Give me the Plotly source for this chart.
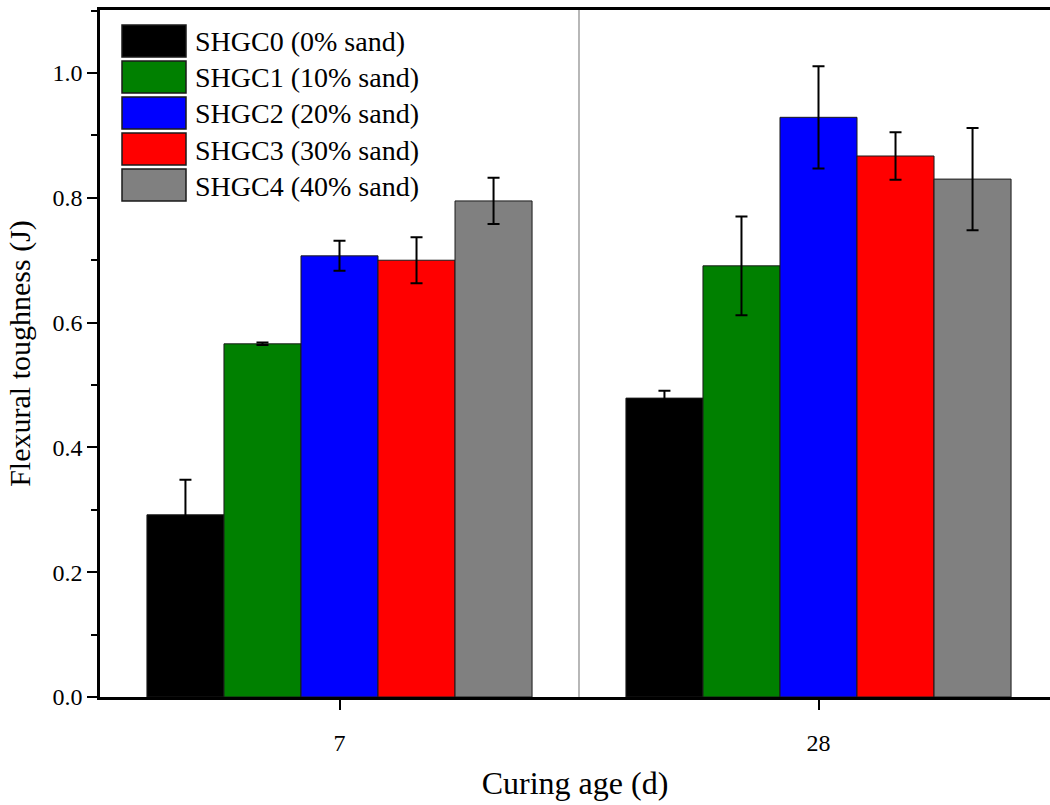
import plotly.graph_objects as go

categories = ["7", "28"]
series_names = ["SHGC0 (0% sand)", "SHGC1 (10% sand)", "SHGC2 (20% sand)",
                "SHGC3 (30% sand)", "SHGC4 (40% sand)"]
colors = ["#000000", "#008000", "#0000FF", "#FF0000", "#808080"]
values = [
    [0.292, 0.479],
    [0.566, 0.691],
    [0.707, 0.929],
    [0.700, 0.867],
    [0.795, 0.830],
]
errors = [
    [0.056, 0.012],
    [0.002, 0.079],
    [0.024, 0.082],
    [0.037, 0.038],
    [0.037, 0.082],
]
y_ticks = [0.0, 0.2, 0.4, 0.6, 0.8, 1.0]

W, H = 1050, 805
L, R, T, B = 100, 0, 10, 108
FONT = "Liberation Serif"

fig = go.Figure()
for name, col, v, e in zip(series_names, colors, values, errors):
    fig.add_trace(go.Bar(
        x=[0, 1], y=v, name=name,
        marker=dict(color=col, line=dict(color="#1a1a1a", width=1)),
        error_y=dict(type="data", array=e, visible=True, color="black",
                     thickness=2, width=6),
        showlegend=False,
    ))

pw = W - L - R
ph = H - T - B
def px(x):
    return (x - L) / pw
def py(y):
    return (H - B - y) / ph

shapes = []
annotations = []
# custom legend with large swatches
for i, (name, col) in enumerate(zip(series_names, colors)):
    y0 = 25 + i * 36
    shapes.append(dict(type="rect", xref="paper", yref="paper",
                       x0=px(122), x1=px(186), y0=py(y0 + 32), y1=py(y0),
                       fillcolor=col, line=dict(color="#1a1a1a", width=1.5)))
    annotations.append(dict(xref="paper", yref="paper", x=px(193), y=py(y0 + 17),
                            text=name, showarrow=False, xanchor="left",
                            yanchor="middle",
                            font=dict(family=FONT, size=28, color="black")))
# group divider
shapes.append(dict(type="line", xref="x", yref="paper", x0=0.5, x1=0.5, y0=0, y1=1,
                   line=dict(color="#888888", width=1.2), layer="below"))

fig.update_layout(
    width=W, height=H,
    margin=dict(l=L, r=R, t=T, b=B),
    plot_bgcolor="white", paper_bgcolor="white",
    barmode="group", bargap=0.196, bargroupgap=0,
    font=dict(family=FONT, color="black"),
    shapes=shapes, annotations=annotations,
    xaxis=dict(
        range=[-0.5, -0.5 + pw / 479.0],
        tickmode="array", tickvals=[0, 1], ticktext=categories,
        ticks="outside", ticklen=10, tickwidth=2, tickcolor="black",
        tickfont=dict(family=FONT, size=24),
        ticklabelstandoff=12,
        showline=True, linecolor="black", linewidth=2.5, mirror=True,
        showgrid=False, zeroline=False,
        title=dict(text="Curing age (d)", font=dict(family=FONT, size=32), standoff=18),
    ),
    yaxis=dict(
        range=[0, 1.101],
        tickmode="array", tickvals=y_ticks,
        ticktext=[f"{t:.1f}" for t in y_ticks],
        ticks="outside", ticklen=10, tickwidth=2, tickcolor="black",
        minor=dict(tickvals=[0.1, 0.3, 0.5, 0.7, 0.9, 1.1], ticks="outside",
                   ticklen=6, tickwidth=2, tickcolor="black", showgrid=False),
        tickfont=dict(family=FONT, size=24),
        showline=True, linecolor="black", linewidth=2.5, mirror=False,
        showgrid=False, zeroline=False,
        title=dict(text="Flexural toughness (J)", font=dict(family=FONT, size=30), standoff=13),
    ),
)

fig.write_html("out.html")
